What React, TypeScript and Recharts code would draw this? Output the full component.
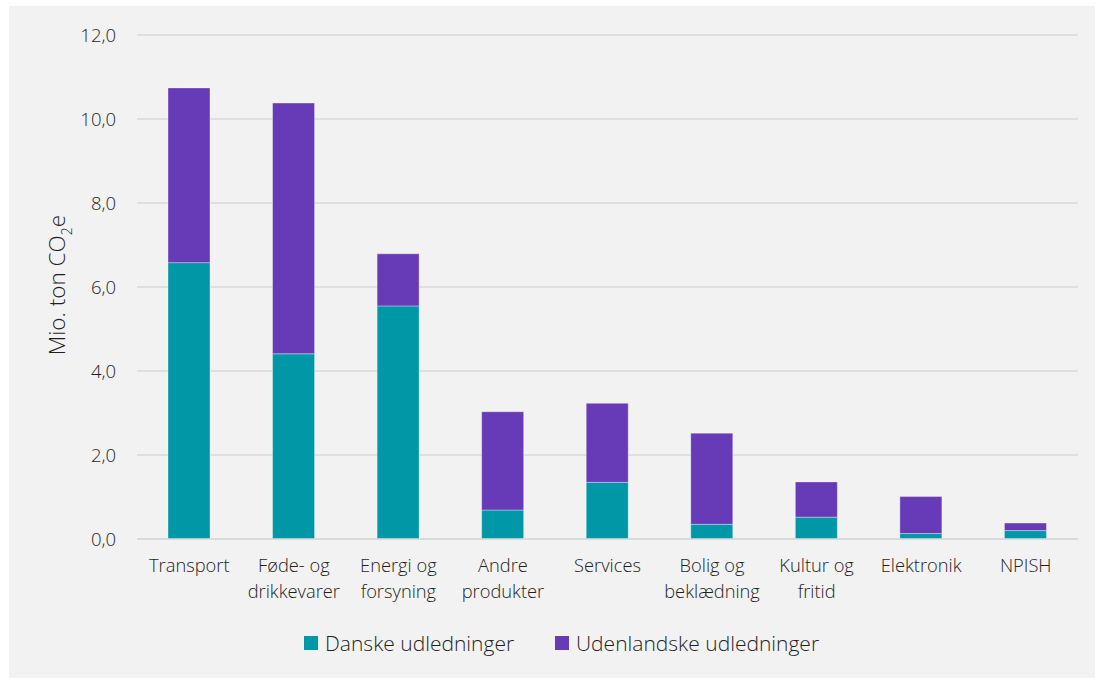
import React from 'react';
import { BarChart, Bar, XAxis, YAxis, CartesianGrid, Label } from 'recharts';

const categories = ['Transport', 'Føde- og drikkevarer', 'Energi og forsyning', 'Andre produkter', 'Services', 'Bolig og beklædning', 'Kultur og fritid', 'Elektronik', 'NPISH'];
const categoryLines = [['Transport'], ['Føde- og', 'drikkevarer'], ['Energi og', 'forsyning'], ['Andre', 'produkter'], ['Services'], ['Bolig og', 'beklædning'], ['Kultur og', 'fritid'], ['Elektronik'], ['NPISH']];
const danske = [6.58, 4.41, 5.55, 0.69, 1.35, 0.35, 0.52, 0.13, 0.2];
const udenlandske = [4.16, 5.97, 1.24, 2.34, 1.88, 2.17, 0.84, 0.88, 0.18];
const yTicks = [0, 2, 4, 6, 8, 10, 12];
const seriesNames = ['Danske udledninger', 'Udenlandske udledninger'];
const colors = ['#0097A7', '#673AB7'];

const data = categories.map((c, i) => ({ name: c, danske: danske[i], udenlandske: udenlandske[i] }));

const FONT = '"Open Sans", "Noto Sans", sans-serif';
const TXT = '#1f1f1f';
const W = 300;

const XTick = (props: any) => {
  const { x, y, payload } = props;
  const idx = categories.indexOf(payload.value);
  const lines = idx >= 0 ? categoryLines[idx] : [payload.value];
  return (
    <g>
      {lines.map((l: string, i: number) => (
        <text key={i} x={x} y={y + 33 + i * 26} textAnchor="middle" fill={TXT} fontSize={18.3} fontWeight={W} fontFamily={FONT}>{l}</text>
      ))}
    </g>
  );
};

const YLabel = () => (
  <text transform="translate(56,279) rotate(-90)" textAnchor="middle" fill={TXT} fontSize={22.5} fontWeight={W} fontFamily={FONT}>
    Mio. ton CO<tspan fontSize={14} dy={7}>2</tspan><tspan dy={-7}>e</tspan>
  </text>
);

export default function App() {
  return (
    <div style={{ position: 'absolute', left: 9, top: 6, width: 1086, height: 672, background: '#f2f2f2' }}>
      <BarChart width={1086} height={672} data={data} margin={{ top: 29, right: 17, bottom: 109, left: 2 }} barSize={42}>
        <CartesianGrid vertical={false} stroke="#d9d9d9" strokeWidth={1.5} />
        <XAxis dataKey="name" height={30} tick={<XTick />} tickLine={false} axisLine={{ stroke: '#d9d9d9', strokeWidth: 1.5 }} interval={0} tickSize={0} tickMargin={0} />
        <YAxis width={126} domain={[0, 12]} ticks={yTicks} axisLine={false} tickLine={false} tickSize={0} tickMargin={21}
          tickFormatter={(v: number) => v.toFixed(1).replace('.', ',')}
          tick={{ fill: TXT, fontSize: 18.5, fontWeight: W, fontFamily: FONT }}>
          <Label content={<YLabel />} />
        </YAxis>
        <Bar dataKey="danske" stackId="a" fill={colors[0]} stroke="rgba(255,255,255,0.35)" strokeWidth={1} isAnimationActive={false} />
        <Bar dataKey="udenlandske" stackId="a" fill={colors[1]} stroke="rgba(255,255,255,0.35)" strokeWidth={1} isAnimationActive={false} />
      </BarChart>
      <div style={{ position: 'absolute', top: 623, left: 295, display: 'flex', fontFamily: FONT, fontSize: 21, fontWeight: W, color: TXT, whiteSpace: 'nowrap' }}>
        {seriesNames.map((n, i) => (
          <div key={n} style={{ display: 'flex', alignItems: 'center', position: 'absolute', left: i === 0 ? 0 : 251 }}>
            <span style={{ display: 'inline-block', width: 14, height: 14, background: colors[i], marginRight: 7 }} />
            <span>{n}</span>
          </div>
        ))}
      </div>
    </div>
  );
}
